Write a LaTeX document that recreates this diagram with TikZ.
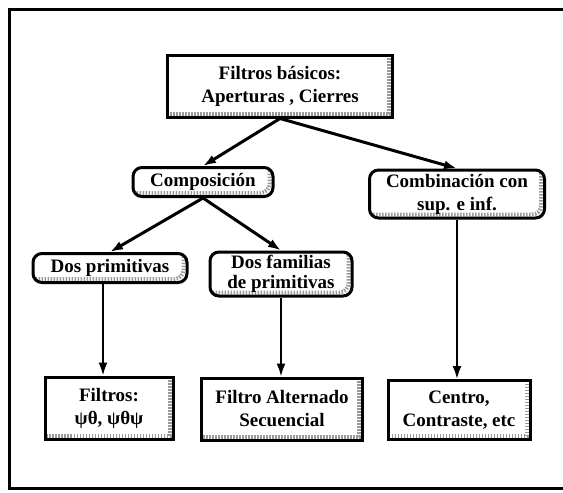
\documentclass[tikz,border=0pt]{standalone}
\usepackage{fontspec}
\setmainfont{Liberation Serif}
\usetikzlibrary{arrows.meta}

\tikzset{
        caja/.style={draw, line width=3pt, align=center, inner sep=0pt,
            font=\fontsize{19}{23}\selectfont\bfseries,
            path picture={\draw[gray!80, line width=4pt, dash pattern=on 1.5pt off 1.5pt]
                ([xshift=-3.5pt]path picture bounding box.north east) --
                ([xshift=-3.5pt,yshift=3.5pt]path picture bounding box.south east) --
                ([yshift=3.5pt]path picture bounding box.south west);}},
        burbuja/.style={caja, rounded corners=9pt},
        flecha/.style={line width=3pt, -{Latex[length=13pt,width=9pt]}},
        bajada/.style={flecha, line width=2pt}
}

\begin{document}
\begin{tikzpicture}[x=1pt, y=-1pt]
        \useasboundingbox (0,0) rectangle (563,493);
        \draw[line width=3pt] (563,9) -- (9,9) -- (9,488) -- (563,488);

        \node[caja, minimum width=225pt, minimum height=62pt] (basicos) at (280,86) {Filtros básicos:\\Aperturas , Cierres};
        \node[burbuja, minimum width=140pt, minimum height=29pt] (compo) at (203,182) {Composición};
        \node[burbuja, minimum width=175pt, minimum height=48pt] (combi) at (457,194) {Combinación con\\sup. e inf.};
        \node[burbuja, minimum width=154pt, minimum height=29pt] (dosprim) at (110,268) {Dos primitivas};
        \node[burbuja, minimum width=142pt, minimum height=44pt, font=\fontsize{19}{20}\selectfont\bfseries] (dosfam) at (281,274) {Dos familias\\de primitivas};
        \node[caja, minimum width=128pt, minimum height=62pt] (filtros) at (109,408) {Filtros:\\ψθ, ψθψ};
        \node[caja, minimum width=161pt, minimum height=62pt] (fas) at (282,409) {Filtro Alternado\\Secuencial};
        \node[caja, minimum width=142pt, minimum height=59pt] (centro) at (459,410) {Centro,\\Contraste, etc};

        \draw[flecha] (basicos.south) -- (compo.north);
        \draw[flecha] (basicos.south) -- (combi.north);
        \draw[flecha] (compo.south) -- (dosprim.north);
        \draw[flecha] (compo.south) -- (dosfam.north);

        \draw[bajada] ([xshift=-7pt]dosprim.south) -- ([xshift=-7pt]dosprim.south |- filtros.north);
        \draw[bajada] (dosfam.south) -- (dosfam.south |- fas.north);
        \draw[bajada] (combi.south) -- (combi.south |- centro.north);
\end{tikzpicture}
\end{document}
